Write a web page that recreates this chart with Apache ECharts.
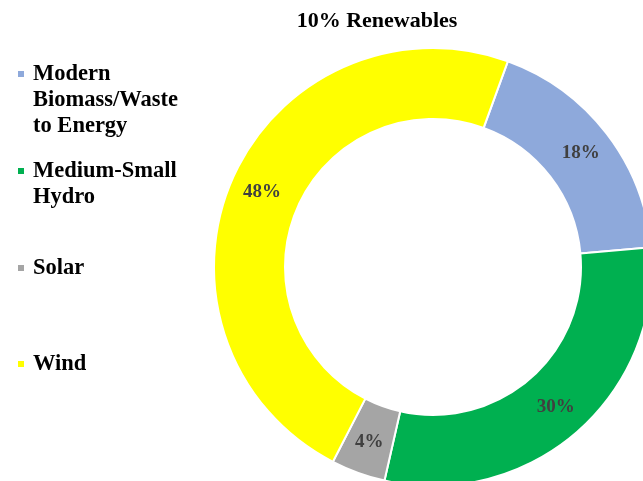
<!DOCTYPE html>
<html>
<head>
<meta charset="utf-8">
<script src="https://cdn.jsdelivr.net/npm/echarts@6/dist/echarts.min.js"></script>
<style>
  html, body { margin: 0; padding: 0; background: #fff; }
  #chart { width: 643px; height: 481px; }
</style>
</head>
<body>
<div id="chart"></div>
<script>
// Share of the renewable energy mix (percent)
const categories = ['Modern Biomass/Waste to Energy', 'Medium-Small Hydro', 'Solar', 'Wind'];
const shares = [18, 30, 4, 48];
const colors = ['#8EA9DB', '#00B050', '#A5A5A5', '#FFFF00'];
// Wrapped legend text; leading blank lines keep the marker beside the first line
const legendText = {
  'Modern Biomass/Waste to Energy': '\n\nModern\nBiomass/Waste\nto Energy',
  'Medium-Small Hydro': '\nMedium-Small\nHydro',
  'Solar': 'Solar',
  'Wind': 'Wind'
};
const legendTops = [9, 132, 255, 351];

const serif = '"Liberation Serif", "Times New Roman", serif';

const chart = echarts.init(document.getElementById('chart'), null, { renderer: 'canvas' });

const legends = categories.map((name, i) => ({
  data: [name],
  orient: 'vertical',
  left: 16,
  top: legendTops[i],
  padding: 0,
  icon: 'rect',
  itemWidth: 8,
  itemHeight: 8,
  selectedMode: false,
  formatter: n => legendText[n],
  textStyle: {
    fontFamily: serif,
    fontWeight: 'bold',
    fontSize: 22.5,
    lineHeight: 26,
    color: '#000',
    padding: [0, 0, 0, 3]
  }
}));

chart.setOption({
  animation: false,
  color: colors,
  title: {
    text: '10% Renewables',
    left: 372,
    textAlign: 'center',
    top: 5,
    textStyle: { fontFamily: serif, fontWeight: 'bold', fontSize: 22, color: '#000' }
  },
  legend: legends,
  series: [{
    type: 'pie',
    center: [433, 267],
    radius: [148, 219],
    startAngle: 70,
    clockwise: true,
    avoidLabelOverlap: false,
    itemStyle: { borderColor: '#fff', borderWidth: 2 },
    emphasis: { disabled: true },
    label: {
      show: true,
      position: 'inside',
      formatter: '{c}%',
      fontFamily: serif,
      fontWeight: 'bold',
      fontSize: 19,
      color: '#404040'
    },
    labelLine: { show: false },
    data: categories.map((name, i) => ({ name, value: shares[i] }))
  }]
});
</script>
</body>
</html>
